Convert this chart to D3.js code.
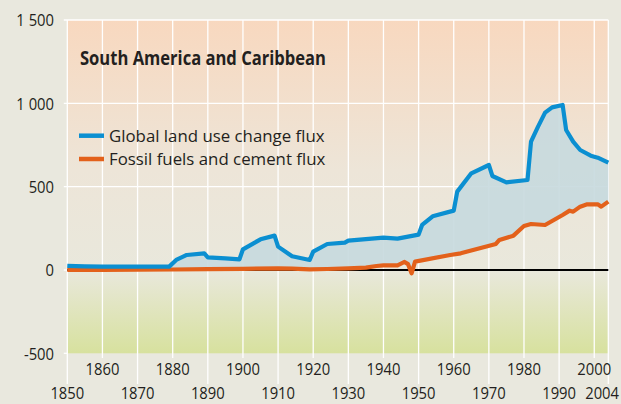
<!DOCTYPE html>
<html>
<head>
<meta charset="utf-8">
<script src="https://cdn.jsdelivr.net/npm/d3@7"></script>
<style>
  html, body { margin: 0; padding: 0; background: #e9e8de; }
  svg { display: block; }
  text { font-family: "Open Sans", "Noto Sans", sans-serif; fill: #231f20; }
</style>
</head>
<body>
<svg id="chart" width="621" height="404"></svg>
<script>
const title = "South America and Caribbean";
const seriesNames = ["Global land use change flux", "Fossil fuels and cement flux"];

const landYears  = [1850, 1855, 1860, 1870, 1879, 1881, 1884, 1889, 1890, 1895, 1899, 1900, 1903, 1905, 1909, 1910, 1914, 1919, 1920, 1924, 1929, 1930, 1935, 1940, 1944, 1947, 1950, 1951, 1954, 1960, 1961, 1965, 1970, 1971, 1975, 1981, 1982, 1984, 1986, 1988, 1991, 1992, 1994, 1996, 1999, 2001, 2004];
const landValues = [25, 22, 20, 20, 20, 60, 90, 100, 76, 70, 64, 124, 160, 184, 206, 140, 82, 60, 110, 156, 164, 176, 185, 194, 188, 200, 212, 270, 322, 356, 470, 580, 630, 564, 526, 540, 770, 860, 944, 976, 990, 840, 770, 720, 686, 674, 644];

const fossilYears  = [1850, 1860, 1870, 1880, 1890, 1900, 1910, 1914, 1919, 1924, 1930, 1935, 1938, 1940, 1944, 1946, 1947, 1948, 1949, 1959, 1962, 1972, 1973, 1977, 1980, 1982, 1986, 1991, 1993, 1994, 1996, 1998, 2001, 2002, 2004];
const fossilValues = [0, 1, 2, 3, 5, 7, 10, 8, 4, 6, 10, 14, 24, 28, 28, 48, 35, -20, 50, 90, 100, 156, 180, 206, 264, 276, 270, 330, 356, 350, 380, 394, 394, 380, 410];

const yTicks = [-500, 0, 500, 1000, 1500];
const yTickLabels = ["-500", "0", "500", "1 000", "1 500"];
const xTicksUpper = [1860, 1880, 1900, 1920, 1940, 1960, 1980, 2000];
const xTicksLower = [1850, 1870, 1890, 1910, 1930, 1950, 1970, 1990, 2004];

const colors = { land: "#0b8fd1", fossil: "#e3611b", fill: "#c6d9de" };

const svg = d3.select("#chart");
const x = d3.scaleLinear().domain([1850, 2004]).range([67.3, 608.3]);
const y = d3.scaleLinear().domain([-500, 1500]).range([353.3, 20]);

// condensed text helper (horizontal squeeze of a humanist sans)
function label(parent, tx, ty, str, opts) {
  const o = Object.assign({ size: 17, sx: 0.87, anchor: "start", weight: "normal", fill: "#222" }, opts || {});
  parent.append("g").attr("transform", `translate(${tx},${ty}) scale(${o.sx},1)`)
    .append("text").attr("text-anchor", o.anchor)
    .style("font-size", o.size + "px").style("font-weight", o.weight)
    .attr("fill", o.fill).text(str);
}

// Background gradient
const defs = svg.append("defs");
const grad = defs.append("linearGradient").attr("id", "bg").attr("x1", 0).attr("y1", 0).attr("x2", 0).attr("y2", 1);
[[0, "#f8d8bf"], [0.45, "#ede5d8"], [0.75, "#e9e8dc"], [1, "#d7e19e"]].forEach(([o, c]) =>
  grad.append("stop").attr("offset", o).attr("stop-color", c));

svg.append("rect")
  .attr("x", x(1850)).attr("y", y(1500))
  .attr("width", x(2004) - x(1850)).attr("height", y(-500) - y(1500))
  .attr("fill", "url(#bg)");

// Vertical grid lines + tick extensions
const grid = svg.append("g").attr("stroke", "#ffffff").attr("stroke-width", 1.3);
xTicksUpper.forEach(t => grid.append("line").attr("x1", x(t)).attr("x2", x(t)).attr("y1", y(1500)).attr("y2", 358));
xTicksLower.forEach(t => grid.append("line").attr("x1", x(t)).attr("x2", x(t)).attr("y1", y(1500)).attr("y2", 384));
// Horizontal grid lines
yTicks.forEach(t => {
  grid.append("line").attr("x1", x(1850) - 3.5).attr("x2", t === -500 ? x(1850) : x(2004))
    .attr("y1", y(t)).attr("y2", y(t));
});

// Y labels
const yl = svg.append("g");
yTicks.forEach((t, i) => label(yl, 54, y(t) + 6.2, yTickLabels[i], { anchor: "end" }));

// X labels
const xl = svg.append("g");
xTicksUpper.forEach(t => label(xl, x(t), 375, String(t), { anchor: "middle" }));
xTicksLower.forEach(t => {
  if (t === 2004) label(xl, 619, 398.5, String(t), { anchor: "end" });
  else label(xl, x(t), 398.5, String(t), { anchor: "middle" });
});

// Data
const land = landYears.map((yr, i) => [yr, landValues[i]]);
const fossil = fossilYears.map((yr, i) => [yr, fossilValues[i]]);
const line = d3.line().x(d => x(d[0])).y(d => y(d[1]));

// Fill between the two series
svg.append("path")
  .attr("d", line(land.concat(fossil.slice().reverse())) + "Z")
  .attr("fill", colors.fill).attr("fill-opacity", 0.9);

// Zero line
svg.append("line").attr("x1", x(1850)).attr("x2", x(2004)).attr("y1", y(0)).attr("y2", y(0))
  .attr("stroke", "#000").attr("stroke-width", 2);

svg.append("path").attr("d", line(fossil)).attr("fill", "none")
  .attr("stroke", colors.fossil).attr("stroke-width", 4.2).attr("stroke-linejoin", "round");
svg.append("path").attr("d", line(land)).attr("fill", "none")
  .attr("stroke", colors.land).attr("stroke-width", 4.2).attr("stroke-linejoin", "round");

// Title
label(svg, 80, 65, title, { size: 19.5, sx: 0.85, weight: "bold", fill: "#111" });

// Legend
const legend = svg.append("g");
[colors.land, colors.fossil].forEach((c, i) => {
  const ly = 135.7 + i * 23.3;
  legend.append("line").attr("x1", 79).attr("x2", 104).attr("y1", ly).attr("y2", ly)
    .attr("stroke", c).attr("stroke-width", 4.5);
  label(legend, 109, ly + 6, seriesNames[i], { size: 17, sx: 0.99, fill: "#1a1a1a" });
});
</script>
</body>
</html>
